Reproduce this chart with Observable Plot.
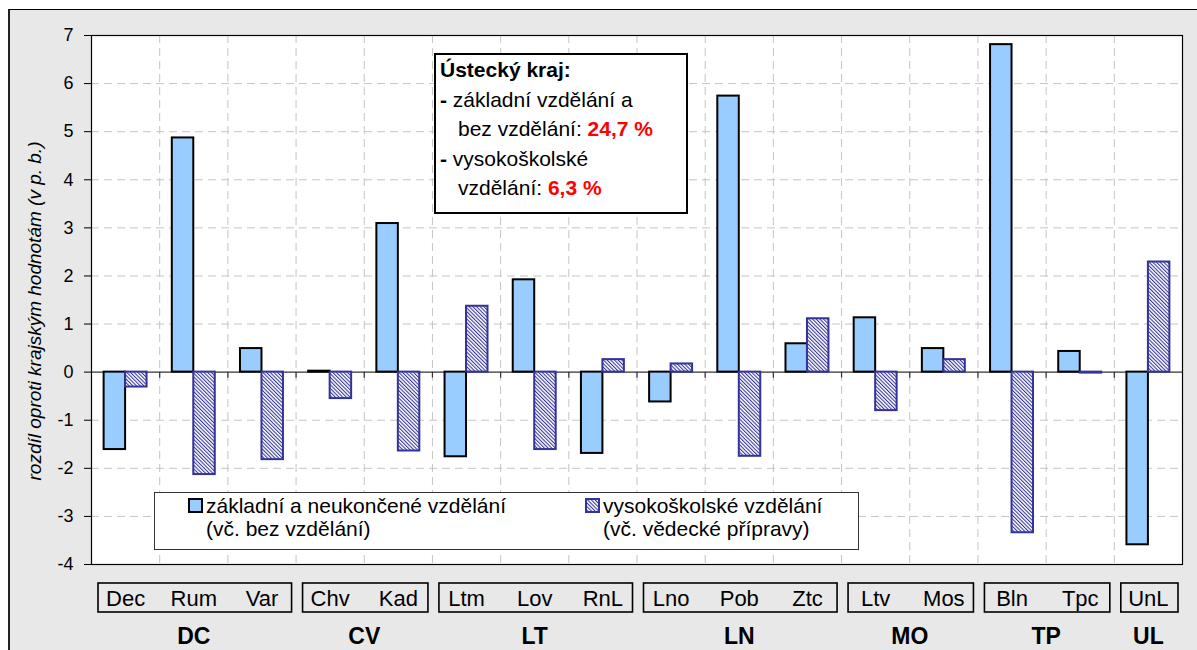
<!DOCTYPE html>
<html><head><meta charset="utf-8">
<script src="https://cdn.jsdelivr.net/npm/d3@7"></script>
<script src="https://cdn.jsdelivr.net/npm/@observablehq/plot@0.6"></script>
<style>
body{margin:0;background:#fff;font-family:'Liberation Sans',Arial,sans-serif;}
#wrap{position:relative;width:1197px;height:650px;overflow:hidden;}
#bg{position:absolute;left:8px;top:9px;right:0;bottom:0;background:#e8e8e8;border-left:2px solid #222;border-top:1px solid #000;}
#chart{position:absolute;left:0;top:0;}
#legend{position:absolute;left:154px;top:492px;width:705px;height:58px;box-sizing:border-box;border:1.5px solid #333;background:#fff;font-size:21px;color:#000;}
.sw{position:absolute;top:5px;width:15px;height:15px;box-sizing:border-box;}
.lt{position:absolute;top:1px;line-height:23.4px;white-space:pre;}
#note{position:absolute;left:434px;top:53px;width:254px;height:161px;box-sizing:border-box;border:2px solid #000;background:#fff;font-size:21px;line-height:29.5px;padding:0 0 0 4px;color:#000;white-space:pre;}
.red{color:#ff0000;font-weight:bold;}
</style>
</head><body>
<svg width="0" height="0" style="position:absolute">
  <defs>
    <pattern id="hatch" patternUnits="userSpaceOnUse" width="2.6" height="2.6" patternTransform="rotate(-45)">
      <rect width="2.6" height="2.6" fill="#ffffff"></rect>
      <rect width="1.05" height="2.6" fill="#333399"></rect>
    </pattern>
  </defs>
</svg>
<div id="wrap">
  <div id="bg"></div>
  <div id="chart"></div>
  <div id="note"></div>
  <div id="legend"></div>
</div>
<script>
// ---- data ----
const districts = ["Dec","Rum","Var","Chv","Kad","Ltm","Lov","RnL","Lno","Pob","Ztc","Ltv","Mos","Bln","Tpc","UnL"];
const districtRegion = ["DC","DC","DC","CV","CV","LT","LT","LT","LN","LN","LN","MO","MO","TP","TP","UL"];
const basicEdu  = [-1.61, 4.87, 0.49, 0.02, 3.09, -1.76, 1.92, -1.69, -0.62, 5.74, 0.59, 1.13, 0.49, 6.81, 0.43, -3.59];
const higherEdu = [-0.31, -2.13, -1.82, -0.55, -1.64, 1.37, -1.61, 0.26, 0.17, -1.75, 1.11, -0.80, 0.26, -3.34, -0.02, 2.29];
const yTicks = [-4, -3, -2, -1, 0, 1, 2, 3, 4, 5, 6, 7];
const seriesLabels = [["základní a neukončené vzdělání", "(vč. bez vzdělání)"], ["vysokoškolské vzdělání", "(vč. vědecké přípravy)"]];
const yTitle = "rozdíl oproti krajským hodnotám (v p. b.)";
const noteTitle = "Ústecký kraj:";
const noteBasic = ["základní vzdělání a", "bez vzdělání: ", "24,7 %"];
const noteHigher = ["vysokoškolské", "vzdělání: ", "6,3 %"];

// ---- derived tables ----
const yMin = yTicks[0], yMax = yTicks[yTicks.length - 1];
const n = districts.length;
const basicRows = districts.map((d, i) => ({i, d, v: basicEdu[i]}));
const higherRows = districts.map((d, i) => ({i, d, v: higherEdu[i]}));
const boundaries = d3.range(1, n);
const regions = [];
districtRegion.forEach((r, i) => {
  const last = regions[regions.length - 1];
  if (last && last.name === r) last.end = i + 1;
  else regions.push({name: r, start: i, end: i + 1});
});
const BW = 0.315;

const plot = Plot.plot({
  width: 1197, height: 650,
  marginLeft: 91, marginRight: 15, marginTop: 35, marginBottom: 86,
  x: {domain: [0, n], axis: null},
  y: {domain: [yMin, yMax]},
  style: {background: "transparent", fontFamily: "'Liberation Sans', Arial, sans-serif", fontSize: "18px", color: "#000"},
  marks: [
    Plot.frame({fill: "#ffffff", stroke: null}),
    Plot.ruleY(yTicks.filter(t => t !== 0 && t !== yMin && t !== yMax), {stroke: "#c4c4c4", strokeDasharray: "8,5", strokeWidth: 1}),
    Plot.ruleX(boundaries, {stroke: "#c4c4c4", strokeDasharray: "8,5", strokeWidth: 1}),
    Plot.ruleY([0], {stroke: "#333", strokeWidth: 1.2}),
    Plot.ruleX(boundaries, {y1: () => 0, y2: () => 0, insetBottom: -6, stroke: "#333", strokeWidth: 1.2}),
    Plot.rectY(basicRows, {x1: d => d.i + 0.5 - BW, x2: d => d.i + 0.5, y: "v", fill: "#99ccff", stroke: "#000", strokeWidth: 2}),
    Plot.rectY(higherRows, {x1: d => d.i + 0.5, x2: d => d.i + 0.5 + BW, y: "v", fill: "url(#hatch)", stroke: "#333399", strokeWidth: 2}),
    Plot.frame({stroke: "#000", strokeWidth: 1.2}),
    Plot.axisY({ticks: yTicks, tickFormat: d => String(d), tickSize: 7, tickPadding: 11, fontSize: 18, label: null, stroke: "#000"}),
    Plot.text([yTitle], {frameAnchor: "left", textAnchor: "middle", rotate: -90, dx: -51, dy: 11, lineAnchor: "bottom", fontStyle: "italic", fontSize: 19, text: d => d}),
    Plot.rect(regions, {x1: "start", x2: "end", y1: () => yMin, y2: () => yMin, insetLeft: 7, insetRight: 4, insetTop: 19, insetBottom: -48, fill: "none", stroke: "#000", strokeWidth: 1.6}),
    Plot.text(districts, {x: (d, i) => i + 0.5, y: () => yMin, dy: 41.7, lineAnchor: "bottom", fontSize: 22, text: d => d}),
    Plot.text(regions, {x: d => (d.start + d.end) / 2, y: () => yMin, dy: 79.3, lineAnchor: "bottom", fontSize: 23, fontWeight: "bold", text: "name"})
  ]
});
document.getElementById("chart").appendChild(plot);

// note box
const note = document.getElementById("note");
note.innerHTML =
  `<div><b>${noteTitle}</b></div>` +
  `<div><b>-</b> ${noteBasic[0]}</div>` +
  `<div style="padding-left:18px">${noteBasic[1]}<span class="red">${noteBasic[2]}</span></div>` +
  `<div><b>-</b> ${noteHigher[0]}</div>` +
  `<div style="padding-left:18px">${noteHigher[1]}<span class="red">${noteHigher[2]}</span></div>`;

// legend
const legend = document.getElementById("legend");
legend.innerHTML =
  `<div class="sw" style="left:33px;background:#99ccff;border:2px solid #000"></div>` +
  `<div class="lt" style="left:51px">${seriesLabels[0].join("\n")}</div>` +
  `<div class="sw" style="left:430px;border:2px solid #333399"><svg width="11" height="11" style="display:block"><rect width="11" height="11" fill="url(#hatch)"></rect></svg></div>` +
  `<div class="lt" style="left:448px">${seriesLabels[1].join("\n")}</div>`;
</script>
</body></html>
